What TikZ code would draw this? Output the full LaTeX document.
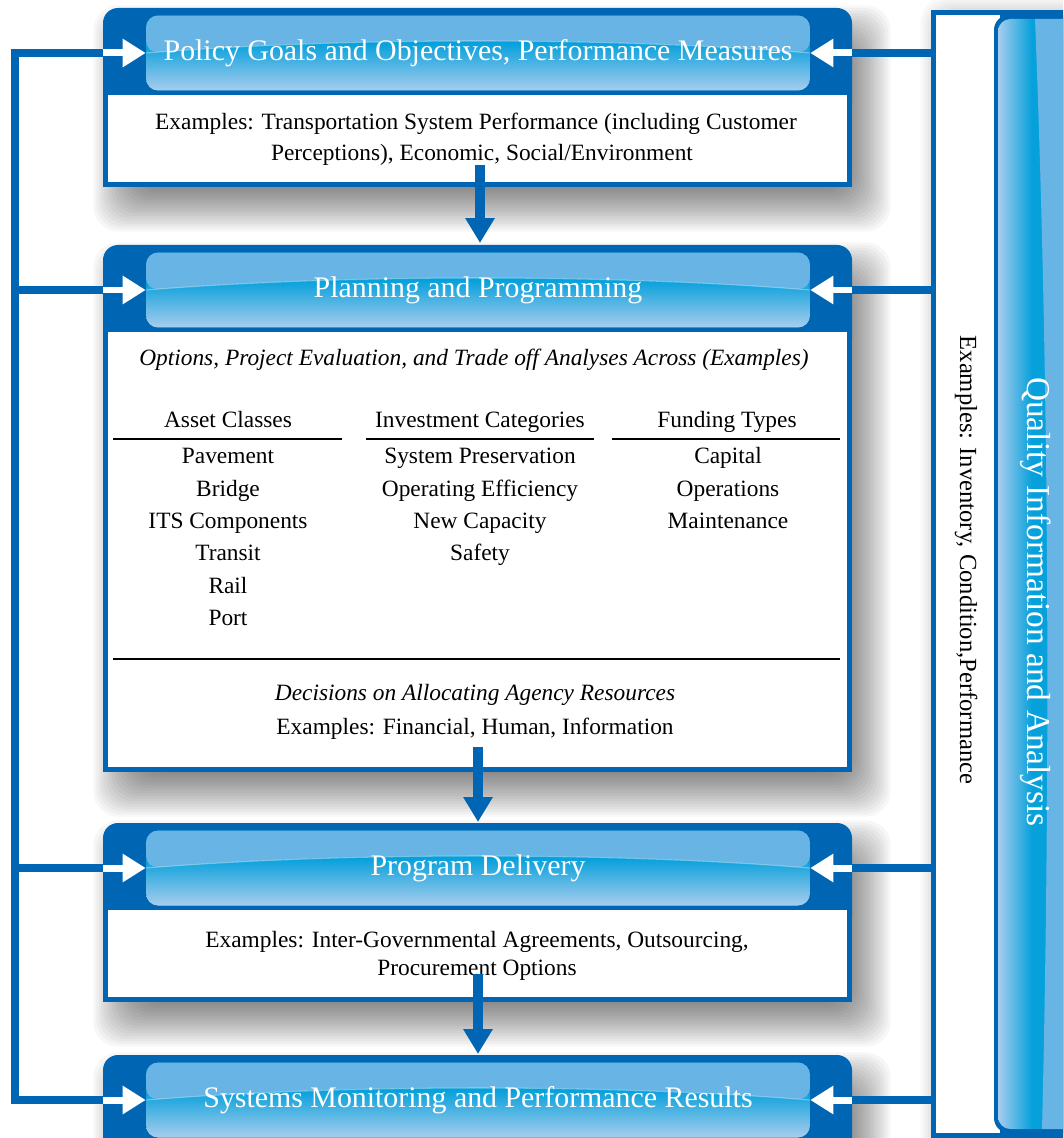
\documentclass[tikz,border=0pt]{standalone}
\usepackage{fontspec}
\setmainfont{Liberation Serif}
\usetikzlibrary{arrows.meta}
\usetikzlibrary{positioning}

\definecolor{frameblue}{RGB}{0,101,179}
\definecolor{hlight}{RGB}{104,180,228}
\definecolor{hcyan}{RGB}{6,160,219}
\definecolor{hpale}{RGB}{168,205,238}

\tikzset{
  headbar/.style={rectangle, rounded corners=0.24cm, minimum width=13.28cm, minimum height=1.5cm,
    inner sep=0pt, text=white, font=\fontsize{17}{20}\selectfont,
    path picture={
      \fill[hcyan] (path picture bounding box.north west) rectangle (path picture bounding box.south east);
      \shade[top color=hcyan, bottom color=hpale] ([yshift=0.2cm]path picture bounding box.west) rectangle (path picture bounding box.south east);
      \fill[hlight] (path picture bounding box.north west) -- (path picture bounding box.north east)
        -- (path picture bounding box.east) .. controls +(-4cm,0.32cm) and +(4cm,0.32cm) .. (path picture bounding box.west) -- cycle;
      \draw[white, opacity=0.35, line width=0.6pt] (path picture bounding box.east)
        .. controls +(-4cm,0.32cm) and +(4cm,0.32cm) .. (path picture bounding box.west);
    }},
  bodytext/.style={font=\fontsize{13.3}{16}\selectfont, text height=9pt, text depth=3pt, inner sep=0pt},
  bodyital/.style={bodytext, font=\fontsize{13.3}{16}\selectfont\itshape},
  feedline/.style={frameblue, line width=0.16cm},
  whitearrow/.style={white, line width=0.14cm, -{Triangle[length=0.46cm, width=0.54cm]}},
  flowarrow/.style={frameblue, line width=0.19cm, -{Triangle[length=0.5cm, width=0.56cm]}},
  colrule/.style={black, line width=1.2pt},
  shadowlayer/.style={black, opacity=0.03, rounded corners=0.5cm},
}

% one block: name, top, bottom, title
\newcommand{\block}[4]{%
  % soft shadow, built up from thin layers
  \foreach \i in {1,...,20}
    \fill[shadowlayer] (118+27.3-2.6*\i,#2+22+27.3-2.6*\i) rectangle (866-27.3+2.6*\i,#3+20-27.3+2.6*\i);
  % dark header and frame
  \fill[frameblue, rounded corners=0.3cm] (103,#2) rectangle (852,#2+110);
  \fill[frameblue] (103,#2+60) rectangle (852,#3);
  \fill[white] (108,#2+87) rectangle (847,#3-5);
  \node[headbar] (#1head) at (478,#2+45) {#4};
  \coordinate (#1-w) at (103,#2+45);
  \coordinate (#1-e) at (852,#2+45);
  \draw[whitearrow] (#1-w) -- (#1head.west);
  \draw[whitearrow] (#1-e) -- (#1head.east);
}

\begin{document}
\begin{tikzpicture}[x=0.02cm, y=-0.02cm]
    \useasboundingbox (0,0) rectangle (1063,1138);
    \clip (0,0) rectangle (1063,1138);
    \fill[white] (0,0) rectangle (1063,1138);

    % Let's draw the four blocks
    \block{policy}{8}{187}{Policy Goals and Objectives, Performance Measures}
    \block{planning}{245}{772}{Planning and Programming}
    \block{delivery}{823}{1002}{Program Delivery}
    \block{monitor}{1055}{1220}{Systems Monitoring and Performance Results}

    % Policy
    \node[bodytext] (policyex1) at (476,124) {Examples: Transportation System Performance (including Customer};
    \node[bodytext] (policyex2) at (482,155) {Perceptions), Economic, Social/Environment};

    % Planning
    \node[bodyital] (options) at (474,360) {Options, Project Evaluation, and Trade off Analyses Across (Examples)};
    \node[bodytext] (assets) at (228,422) {Asset Classes};
    \node[bodytext] (invest) at (480,422) {Investment Categories};
    \node[bodytext] (funding) at (727,422) {Funding Types};
    \draw[colrule] (113,439) -- (342,439);
    \draw[colrule] (366,439) -- (594,439);
    \draw[colrule] (612,439) -- (840,439);
    \foreach \t [count=\k] in {Pavement, Bridge, ITS Components, Transit, Rail, Port}
        \node[bodytext] (asset\k) at (228,426+32.4*\k) {\t};
    \foreach \t [count=\k] in {System Preservation, Operating Efficiency, New Capacity, Safety}
        \node[bodytext] (invest\k) at (480,426+32.4*\k) {\t};
    \foreach \t [count=\k] in {Capital, Operations, Maintenance}
        \node[bodytext] (funding\k) at (728,426+32.4*\k) {\t};
    \draw[colrule] (113,659) -- (840,659);
    \node[bodyital] (decisions) at (475,695) {Decisions on Allocating Agency Resources};
    \node[bodytext] (resources) at (475,729) {Examples: Financial, Human, Information};

    % Delivery
    \node[bodytext] (deliveryex1) at (477,942) {Examples: Inter-Governmental Agreements, Outsourcing,};
    \node[bodytext] (deliveryex2) at (477,970) {Procurement Options};

    % Quality panel on the right
    \foreach \i in {1,...,20}
        \fill[shadowlayer, opacity=0.022] (945+27.3-2.6*\i,22+27.3-2.6*\i) rectangle (1100,1160);
    \fill[frameblue] (931,10) rectangle (1100,1140);
    \fill[white] (936,15) rectangle (1000,1133);
    \fill[frameblue, rounded corners=0.3cm] (994,15) rectangle (1100,1133);
    \begin{scope}
        \clip[rounded corners=0.25cm] (998,19) rectangle (1100,1129);
        \fill[hcyan] (998,19) rectangle (1100,1129);
        \shade[left color=hpale, right color=hcyan] (998,19) rectangle (1032,1129);
        \fill[hlight] (1035,19) .. controls (1050,400) and (1050,800) .. (1042,1129) -- (1100,1129) -- (1100,19) -- cycle;
    \end{scope}
    \node[rotate=-90, text=white, font=\fontsize{19}{22}\selectfont] (quality) at (1036,602) {Quality Information and Analysis};
    \node[rotate=-90, font=\fontsize{14}{16}\selectfont] (qexamples) at (966,560) {Examples: Inventory, Condition,Performance};
    \coordinate (qframe) at (933,0);
    \coordinate (spine) at (15,0);

    % Feedback lines
    \draw[feedline] (policy-w) -- (policy-w -| spine) -- (monitor-w -| spine) -- (monitor-w);
    \draw[feedline] (planning-w -| spine) -- (planning-w);
    \draw[feedline] (delivery-w -| spine) -- (delivery-w);
    \foreach \b in {policy, planning, delivery, monitor}
        \draw[feedline] (\b-e -| qframe) -- (\b-e);

    % Flow between blocks
    \coordinate (policy-out) at (480,165);
    \coordinate (planning-in) at (480,243);
    \coordinate (planning-out) at (478,747);
    \coordinate (delivery-in) at (478,822);
    \coordinate (delivery-out) at (478,974);
    \coordinate (monitor-in) at (478,1054);
    \draw[flowarrow] (policy-out) -- (planning-in);
    \draw[flowarrow] (planning-out) -- (delivery-in);
    \draw[flowarrow] (delivery-out) -- (monitor-in);
\end{tikzpicture}
\end{document}
